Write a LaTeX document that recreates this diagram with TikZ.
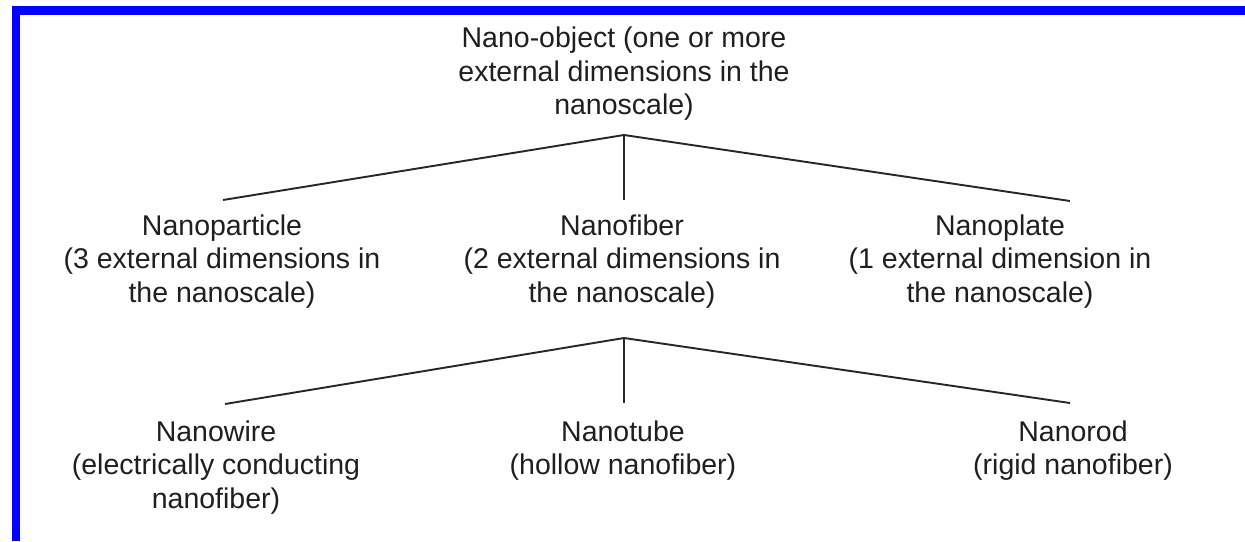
\documentclass[tikz,border=0pt]{standalone}
\usepackage{fontspec}
\setmainfont{Liberation Sans}
\begin{document}
\begin{tikzpicture}[x=0.5pt,y=-0.5pt,
  lbl/.style={align=center,inner sep=0pt,anchor=north,font=\fontsize{14.25}{16.75}\selectfont,text=black!88},
  conn/.style={line width=0.95pt,draw=black!85}]
\useasboundingbox (0,0) rectangle (1245,541);
\fill[white] (0,0) rectangle (1245,541);
\fill[blue] (12,6) rectangle (1245,15);
\fill[blue] (12,6) rectangle (20,541);
% nodes
\node[lbl] (top) at (624,26.5) {Nano-object (one or more\\external dimensions in the\\nanoscale)};
\node[lbl] (particle) at (222,214) {Nanoparticle\\(3 external dimensions in\\the nanoscale)};
\node[lbl] (fiber) at (622,214) {Nanofiber\\(2 external dimensions in\\the nanoscale)};
\node[lbl] (plate) at (1000,214) {Nanoplate\\(1 external dimension in\\the nanoscale)};
\node[lbl] (wire) at (216,420) {Nanowire\\(electrically conducting\\nanofiber)};
\node[lbl] (tube) at (623,420) {Nanotube\\(hollow nanofiber)};
\node[lbl] (rod) at (1073,420) {Nanorod\\(rigid nanofiber)};
% connector points
\coordinate (a1) at (624,135);
\coordinate (e1l) at (223,200);
\coordinate (e1m) at (624,200);
\coordinate (e1r) at (1070,201);
\coordinate (a2) at (624,338);
\coordinate (e2l) at (225,404);
\coordinate (e2m) at (624,403);
\coordinate (e2r) at (1070,403);
\draw[conn] (e1l) -- (a1) -- (e1r);
\draw[conn] (a1) -- (e1m);
\draw[conn] (e2l) -- (a2) -- (e2r);
\draw[conn] (a2) -- (e2m);
\end{tikzpicture}
\end{document}
